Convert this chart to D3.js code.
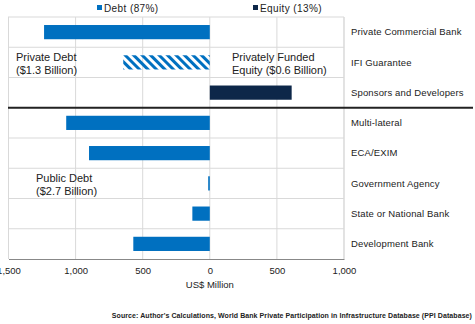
<!DOCTYPE html>
<html>
<head>
<meta charset="utf-8">
<script src="https://cdn.jsdelivr.net/npm/d3@7"></script>
<style>
  body { margin: 0; background: #fff; }
  svg text { font-family: "Liberation Sans", Arial, sans-serif; fill: #222; }
</style>
</head>
<body>
<div id="area"></div>
<script>
// rows, top to bottom
var categories = ['Private Commercial Bank', 'IFI Guarantee', 'Sponsors and Developers',
                  'Multi-lateral', 'ECA/EXIM', 'Government Agency', 'State or National Bank', 'Development Bank'];
// US$ million, debt drawn to the left
var values = [-1235, -645, 610, -1070, -900, -12, -130, -570];
var kinds = ['debt', 'hatch', 'equity', 'debt', 'debt', 'debt', 'debt', 'debt'];
var tickValues = [-1500, -1000, -500, 0, 500, 1000];
var tickLabels = ['1,500', '1,000', '500', '0', '500', '1,000'];
var legendLabels = ['Debt (87%)', 'Equity (13%)'];

var width = 475, height = 324;
var debt_color = '#0070c0',
    equity_color = '#0d2749',
    grid_color = '#d9d9d9';

var svg = d3.select('#area').append('svg')
    .attr('width', width).attr('height', height);

var defs = svg.append('defs');
var pat = defs.append('pattern')
    .attr('id', 'hatch')
    .attr('patternUnits', 'userSpaceOnUse')
    .attr('width', 6).attr('height', 6)
    .attr('patternTransform', 'rotate(-45)');
pat.append('rect').attr('width', 3).attr('height', 6).attr('fill', debt_color);

var x = d3.scaleLinear().domain([-1500, 1000]).range([8.5, 344]);
var y = d3.scaleBand().domain(categories).range([17, 259])
    .paddingInner(0.53).paddingOuter(0.265);
var step = y.step();

// vertical grid
svg.append('g').selectAll('line').data(tickValues).enter().append('line')
    .attr('x1', function(d) { return x(d); }).attr('x2', function(d) { return x(d); })
    .attr('y1', 17).attr('y2', 259)
    .attr('stroke', grid_color).attr('stroke-width', 1);
svg.append('line').attr('x1', 344).attr('x2', 344).attr('y1', 17).attr('y2', 259)
    .attr('stroke', grid_color);

// row separators
svg.append('g').selectAll('line').data(d3.range(categories.length)).enter().append('line')
    .attr('x1', 8).attr('x2', 344)
    .attr('y1', function(i) { return 17 + i * step; })
    .attr('y2', function(i) { return 17 + i * step; })
    .attr('stroke', grid_color);

// bars
svg.append('g').selectAll('rect').data(values).enter().append('rect')
    .attr('x', function(d) { return x(Math.min(0, d)); })
    .attr('width', function(d) { return Math.abs(x(d) - x(0)); })
    .attr('y', function(d, i) { return y(categories[i]); })
    .attr('height', y.bandwidth())
    .attr('fill', function(d, i) {
      if (kinds[i] == 'hatch') return 'url(#hatch)';
      return kinds[i] == 'equity' ? equity_color : debt_color;
    });

// private / public divider
svg.append('line').attr('x1', 8).attr('x2', 473)
    .attr('y1', 17 + 3 * step).attr('y2', 17 + 3 * step)
    .attr('stroke', '#222').attr('stroke-width', 1.8);

// bottom axis
var axis = svg.append('g').attr('transform', 'translate(0,259)')
    .call(d3.axisBottom(x).tickValues(tickValues).tickSize(0)
      .tickFormat(function(d, i) { return tickLabels[i]; }));
axis.select('.domain').attr('stroke', '#888');
axis.selectAll('text').attr('y', 5).attr('dy', '1.1em').style('font-size', '9.5px')
    .style('font-family', '"Liberation Sans", Arial, sans-serif').attr('fill', '#222');

svg.append('text').attr('x', x(0)).attr('y', 288).attr('text-anchor', 'middle')
    .style('font-size', '9.5px').text('US$ Million');

// row labels
svg.append('g').selectAll('text').data(categories).enter().append('text')
    .attr('x', 351)
    .attr('y', function(d) { return y(d) + y.bandwidth() / 2; })
    .attr('dy', '0.35em')
    .style('font-size', '9.5px').style('letter-spacing', '0.15px')
    .text(function(d) { return d; });

// legend
var legendX = [97, 253];
var legend = svg.append('g').selectAll('g').data(legendLabels).enter().append('g')
    .attr('transform', function(d, i) { return 'translate(' + legendX[i] + ',8)'; });
legend.append('rect').attr('x', 0).attr('y', -3).attr('width', 5).attr('height', 5)
    .attr('fill', function(d, i) { return i == 0 ? debt_color : equity_color; });
legend.append('text').attr('x', 7).attr('dy', '0.35em')
    .style('font-size', '10px').style('letter-spacing', '0.4px').attr('fill', '#444')
    .text(function(d) { return d; });

// annotations
var notes = [
  {x: 16, y: 57, lines: ['Private Debt', '($1.3 Billion)']},
  {x: 232, y: 57, lines: ['Privately Funded', 'Equity ($0.6 Billion)']},
  {x: 36, y: 178, lines: ['Public Debt', '($2.7 Billion)']}
];
notes.forEach(function(n) {
  var t = svg.append('text').attr('x', n.x).attr('y', n.y).style('font-size', '11px');
  n.lines.forEach(function(l, i) {
    t.append('tspan').attr('x', n.x).attr('dy', i == 0 ? '0.35em' : '1.2em').text(l);
  });
});

// source
svg.append('text').attr('x', 472).attr('y', 318).attr('text-anchor', 'end')
    .style('font-size', '7px').style('font-weight', 'bold').style('letter-spacing', '0.08px')
    .text("Source: Author's Calculations, World Bank Private Participation in Infrastructure Database (PPI Database)");
</script>
</body>
</html>
